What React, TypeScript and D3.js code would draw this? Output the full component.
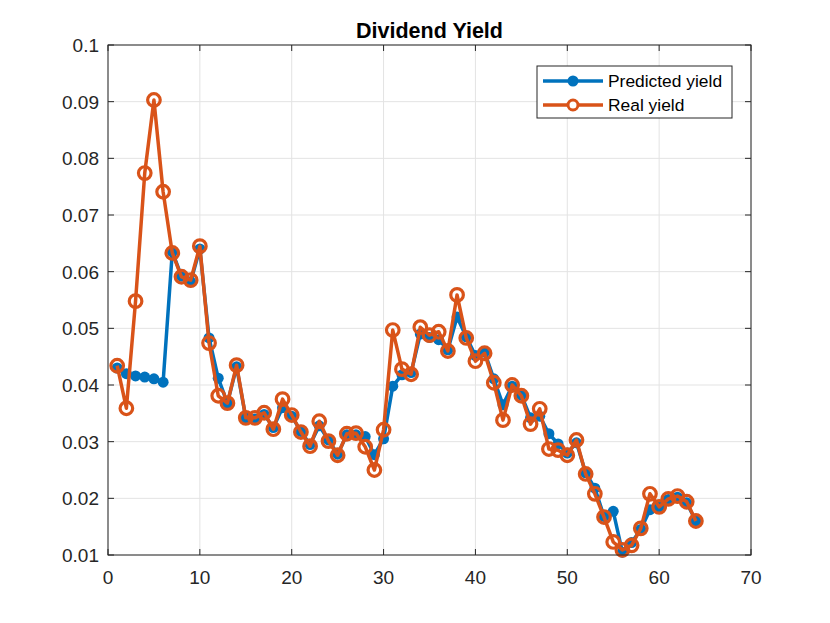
import React from 'react';
import * as d3 from 'd3';

const xs = d3.range(1, 65);

const predicted = [
  0.0430, 0.0420, 0.0416, 0.0414, 0.0411, 0.0405, 0.0635, 0.0592, 0.0582, 0.0640,
  0.0483, 0.0412, 0.0368, 0.0432, 0.0342, 0.0340, 0.0348, 0.0325, 0.0360, 0.0345,
  0.0318, 0.0295, 0.0328, 0.0303, 0.0278, 0.0312, 0.0312, 0.0309, 0.0277, 0.0305,
  0.0398, 0.0418, 0.0422, 0.0490, 0.0484, 0.0480, 0.0462, 0.0520, 0.0485, 0.0452,
  0.0458, 0.0411, 0.0365, 0.0398, 0.0382, 0.0342, 0.0345, 0.0314, 0.0296, 0.0280,
  0.0298, 0.0245, 0.0218, 0.0168, 0.0177, 0.0105, 0.0122, 0.0145, 0.0180, 0.0185,
  0.0198, 0.0202, 0.0192, 0.0160,
];

const real = [
  0.0434, 0.0359, 0.0548, 0.0774, 0.0903, 0.0741, 0.0633, 0.0591, 0.0585, 0.0645,
  0.0474, 0.0381, 0.0368, 0.0435, 0.0342, 0.0342, 0.0351, 0.0322, 0.0375, 0.0347,
  0.0317, 0.0292, 0.0336, 0.0301, 0.0276, 0.0314, 0.0315, 0.0291, 0.0250, 0.0321,
  0.0497, 0.0428, 0.0419, 0.0502, 0.0488, 0.0494, 0.0460, 0.0559, 0.0483, 0.0442,
  0.0456, 0.0404, 0.0338, 0.0400, 0.0381, 0.0331, 0.0358, 0.0287, 0.0285, 0.0276,
  0.0303, 0.0243, 0.0208, 0.0167, 0.0123, 0.0109, 0.0117, 0.0147, 0.0208, 0.0185,
  0.0199, 0.0204, 0.0194, 0.0160,
];

const xTicks = [0, 10, 20, 30, 40, 50, 60, 70];
const yTicks = [0.01, 0.02, 0.03, 0.04, 0.05, 0.06, 0.07, 0.08, 0.09, 0.1];

const BLUE = '#0072BD';
const ORANGE = '#D95319';
const FONT = '"Liberation Sans", Arial, Helvetica, sans-serif';

const W = 830;
const H = 623;
const left = 108;
const right = 751;
const top = 45;
const bottom = 555;

const App: React.FC = () => {
  const x = d3.scaleLinear().domain([0, 70]).range([left, right]);
  const y = d3.scaleLinear().domain([0.01, 0.1]).range([bottom, top]);

  const line = d3
    .line<number>()
    .x((_, i) => x(xs[i]))
    .y((d) => y(d));

  return (
    <svg
      width={W}
      height={H}
      style={{ display: 'block', position: 'absolute', left: 0, top: 0, background: '#fff' }}
    >
      <rect x={0} y={0} width={W} height={H} fill="#fff" />
      {/* grid */}
      {xTicks.map((t) => (
        <line key={'gx' + t} x1={x(t)} x2={x(t)} y1={top} y2={bottom} stroke="#e3e3e3" strokeWidth={1} />
      ))}
      {yTicks.map((t) => (
        <line key={'gy' + t} x1={left} x2={right} y1={y(t)} y2={y(t)} stroke="#e3e3e3" strokeWidth={1} />
      ))}

      {/* series */}
      <path d={line(predicted) || ''} fill="none" stroke={BLUE} strokeWidth={3.5} strokeLinejoin="round" />
      {predicted.map((d, i) => (
        <circle key={'p' + i} cx={x(xs[i])} cy={y(d)} r={5.5} fill={BLUE} />
      ))}
      <path d={line(real) || ''} fill="none" stroke={ORANGE} strokeWidth={3.5} strokeLinejoin="round" />
      {real.map((d, i) => (
        <circle key={'r' + i} cx={x(xs[i])} cy={y(d)} r={6.3} fill="none" stroke={ORANGE} strokeWidth={3.2} />
      ))}

      {/* axes box */}
      <rect x={left} y={top} width={right - left} height={bottom - top} fill="none" stroke="#262626" strokeWidth={1} />
      {xTicks.map((t) => (
        <g key={'tx' + t}>
          <line x1={x(t)} x2={x(t)} y1={bottom} y2={bottom - 6} stroke="#262626" />
          <line x1={x(t)} x2={x(t)} y1={top} y2={top + 6} stroke="#262626" />
          <text x={x(t)} y={bottom + 29} textAnchor="middle" fontFamily={FONT} fontSize={19} fill="#262626">
            {t}
          </text>
        </g>
      ))}
      {yTicks.map((t) => (
        <g key={'ty' + t}>
          <line x1={left} x2={left + 6} y1={y(t)} y2={y(t)} stroke="#262626" />
          <line x1={right} x2={right - 6} y1={y(t)} y2={y(t)} stroke="#262626" />
          <text x={left - 9} y={y(t) + 7} textAnchor="end" fontFamily={FONT} fontSize={19} fill="#262626">
            {d3.format('~g')(t)}
          </text>
        </g>
      ))}

      {/* title */}
      <text x={(left + right) / 2} y={38} textAnchor="middle" fontFamily={FONT} fontSize={21.5} fontWeight="bold" fill="#000">
        Dividend Yield
      </text>

      {/* legend */}
      <g>
        <rect x={537} y={66} width={195} height={52} fill="#fff" stroke="#262626" strokeWidth={1} />
        <line x1={543} x2={603} y1={81} y2={81} stroke={BLUE} strokeWidth={3.5} />
        <circle cx={573} cy={81} r={5.5} fill={BLUE} />
        <text x={608} y={87} fontFamily={FONT} fontSize={17.4} fill="#000">
          Predicted yield
        </text>
        <line x1={543} x2={603} y1={105} y2={105} stroke={ORANGE} strokeWidth={3.5} />
        <circle cx={573} cy={105} r={5} fill="#fff" stroke={ORANGE} strokeWidth={3} />
        <text x={608} y={111} fontFamily={FONT} fontSize={17.4} fill="#000">
          Real yield
        </text>
      </g>
    </svg>
  );
};

export default App;
